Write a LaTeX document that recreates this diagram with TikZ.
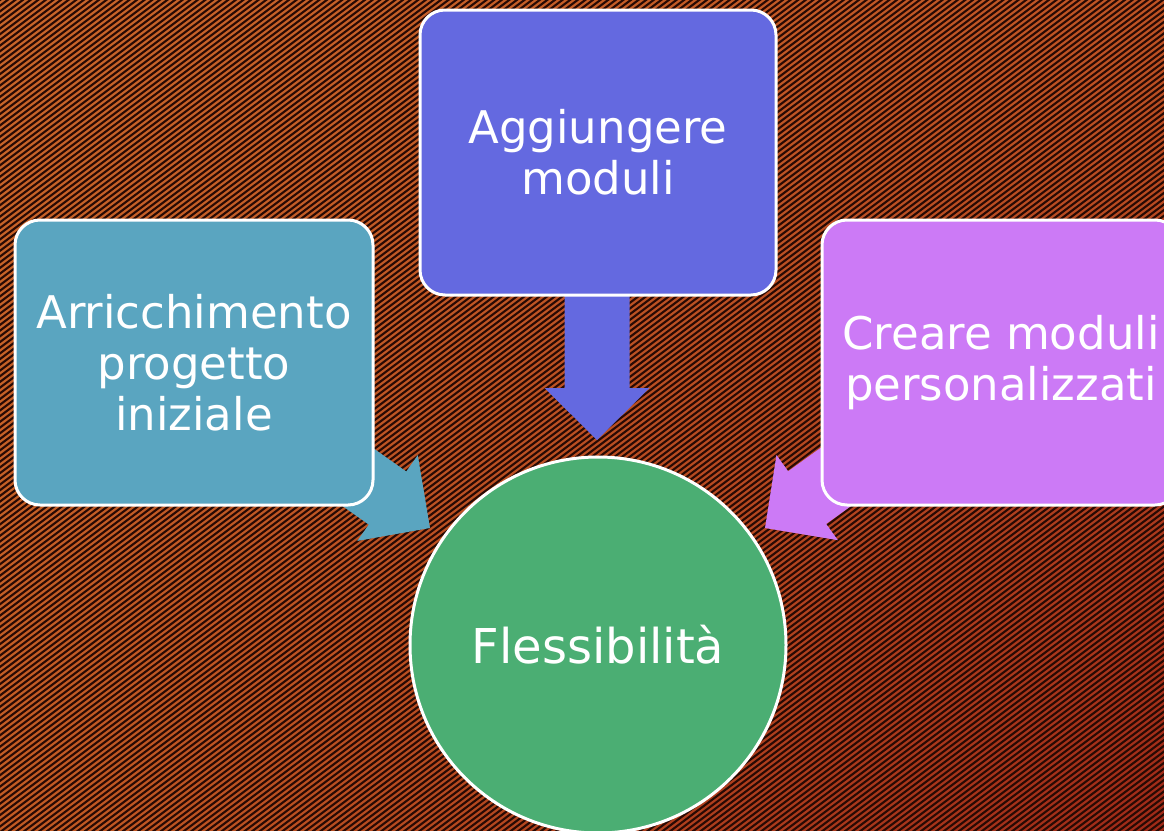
\documentclass[tikz,border=0pt]{standalone}
\usepackage{fontspec}
\setmainfont{DejaVu Sans}
\usetikzlibrary{shadings}
\definecolor{bgA}{RGB}{202,102,42}
\definecolor{bgB}{RGB}{192,84,36}
\definecolor{bgC}{RGB}{196,92,36}
\definecolor{bgD}{RGB}{160,42,24}
\definecolor{stripec}{RGB}{40,10,4}
\definecolor{topc}{RGB}{100,105,224}
\definecolor{leftc}{RGB}{90,165,192}
\definecolor{rightc}{RGB}{204,122,246}
\definecolor{circc}{RGB}{75,174,115}
\tikzset{
  box/.style={draw=white, line width=3pt, rounded corners=25pt, text=white, align=center, inner sep=0pt},
  bigtext/.style={font=\fontsize{45}{51}\selectfont},
  blockarrow/.pic={\fill[pic actions] (0,0) -- (-52,52.5) -- (-52,32.5) -- (-170,32.5) -- (-170,-32.5) -- (-52,-32.5) -- (-52,-52.5) -- cycle;}
}
\begin{document}
\begin{tikzpicture}[x=1pt,y=-1pt]
\useasboundingbox (0,0) rectangle (1164,830);
\begin{scope}
\clip (0,0) rectangle (1164,830);
\shade[upper left=bgA, upper right=bgB, lower left=bgC, lower right=bgD] (0,0) rectangle (1164,830);
\foreach \c in {0,5.7,...,1730} {
  \draw[stripec, line width=2.1pt] (-10,{\c+7.5}) -- (1174,{\c-880.5});
}
\end{scope}
% arrow tips
\coordinate (tipL) at (430,528);
\coordinate (tipT) at (597,440);
\coordinate (tipR) at (765,528);
\pic[fill=leftc, rotate=-35.2] at (tipL) {blockarrow};
\pic[fill=topc, rotate=-90] at (tipT) {blockarrow};
\pic[fill=rightc, rotate=-144.2] at (tipR) {blockarrow};
% boxes
\node[box, fill=topc, minimum width=356pt, minimum height=285pt, bigtext] (add) at (598,152.5) {Aggiungere\\moduli};
\node[box, fill=leftc, minimum width=358pt, minimum height=285pt, bigtext] (enr) at (194,362.5) {Arricchimento\\progetto\\iniziale};
\node[box, fill=rightc, minimum width=358pt, minimum height=285pt, bigtext] (cre) at (1001,362.5) {Creare moduli\\personalizzati};
\node[circle, draw=white, line width=3pt, fill=circc, minimum size=376pt, inner sep=0pt, text=white, font=\fontsize{48}{54}\selectfont] (flex) at (598,645) {Flessibilità};
\end{tikzpicture}
\end{document}
